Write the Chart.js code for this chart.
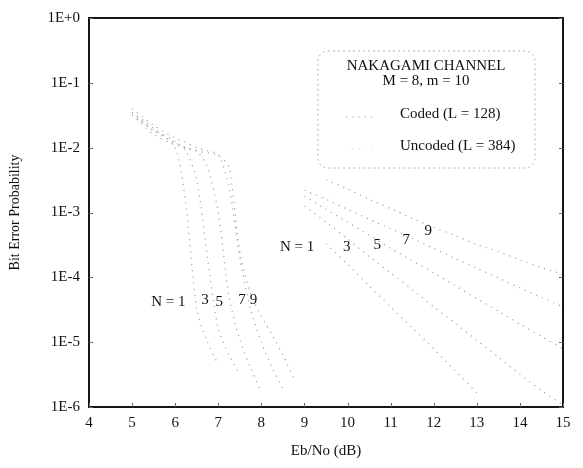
<!DOCTYPE html>
<html>
<head>
<meta charset="utf-8">
<script src="https://cdn.jsdelivr.net/npm/chart.js@4/dist/chart.umd.min.js"></script>
<style>
  html, body { margin: 0; padding: 0; background: #ffffff; }
  #wrap { width: 583px; height: 468px; }
</style>
</head>
<body>
<div id="wrap"><canvas id="c" width="583" height="468"></canvas></div>
<script>
// ---------------- data ----------------
const xTickValues = [4, 5, 6, 7, 8, 9, 10, 11, 12, 13, 14, 15];
const xTickLabels = ['4', '5', '6', '7', '8', '9', '10', '11', '12', '13', '14', '15'];
const yTickValues = [1e-6, 1e-5, 1e-4, 1e-3, 1e-2, 1e-1, 1];
const yTickLabels = ['1E-6', '1E-5', '1E-4', '1E-3', '1E-2', '1E-1', '1E+0'];

// Coded (L = 128) curves, Eb/No grid
const codedEbNo = [5, 5.5, 6, 6.25, 6.5, 6.75, 7, 7.25, 7.5, 7.75, 8, 8.25, 8.5, 8.75];
const codedN1 = [3.5e-2, 2.0e-2, 1.0e-2, 1.3e-3, 3.2e-5, 1.0e-5, 4.5e-6, null, null, null, null, null, null, null];
const codedN3 = [3.2e-2, 1.9e-2, 1.25e-2, 8.9e-3, 3.2e-3, 2.0e-4, 1.6e-5, 6.3e-6, 3.2e-6, null, null, null, null, null];
const codedN5 = [3.5e-2, 1.8e-2, 1.2e-2, 1.0e-2, 8.9e-3, 5.0e-3, 1.0e-3, 5.0e-5, 1.1e-5, 4.0e-6, 1.7e-6, null, null, null];
const codedN7 = [4.0e-2, 2.2e-2, 1.4e-2, 1.2e-2, 1.0e-2, 8.9e-3, 7.9e-3, 2.5e-3, 2.0e-4, 3.2e-5, 1.0e-5, 4.0e-6, 1.9e-6, null];
const codedN9 = [3.2e-2, 1.6e-2, 1.1e-2, 1.0e-2, 8.9e-3, 8.3e-3, 7.6e-3, 5.0e-3, 2.5e-4, 5.6e-5, 2.5e-5, 1.3e-5, 6.3e-6, 2.8e-6];

// Uncoded (L = 384) curves, Eb/No grid
const uncodedEbNo = [9, 9.5, 10, 10.5, 11, 11.5, 12, 12.5, 13, 13.5, 14, 14.5, 15];
const uncodedN1 = [null, 3.3e-4, 1.6e-4, 7.4e-5, 3.5e-5, 1.66e-5, 7.9e-6, 3.6e-6, 1.66e-6, null, null, null, null];
const uncodedN3 = [1.26e-3, 7.1e-4, 3.9e-4, 2.1e-4, 1.17e-4, 6.5e-5, 3.5e-5, 1.95e-5, 1.07e-5, 5.9e-6, 3.2e-6, 1.8e-6, 1.07e-6];
const uncodedN5 = [1.8e-3, 1.12e-3, 7.1e-4, 4.5e-4, 2.8e-4, 1.8e-4, 1.17e-4, 7.4e-5, 4.7e-5, 3.0e-5, 1.9e-5, 1.23e-5, 7.9e-6];
const uncodedN7 = [2.2e-3, 1.6e-3, 1.12e-3, 7.9e-4, 5.6e-4, 4.0e-4, 2.8e-4, 1.95e-4, 1.38e-4, 9.8e-5, 6.9e-5, 4.9e-5, 3.5e-5];
const uncodedN9 = [null, 3.2e-3, 2.3e-3, 1.6e-3, 1.15e-3, 8.1e-4, 5.9e-4, 4.4e-4, 3.2e-4, 2.5e-4, 1.86e-4, 1.41e-4, 1.12e-4];

// Curve labels (data coordinates)
const curveLabelText = ['N = 1', '3', '5', '7', '9'];
const codedLabelX = [5.84, 6.69, 7.02, 7.55, 7.82];
const codedLabelY = [4.2e-5, 4.5e-5, 4.1e-5, 4.4e-5, 4.4e-5];
const uncodedLabelX = [8.83, 9.98, 10.69, 11.36, 11.87];
const uncodedLabelY = [2.9e-4, 2.95e-4, 3.1e-4, 3.7e-4, 5.2e-4];

const legendTitle = ['NAKAGAMI CHANNEL', 'M = 8, m = 10'];
const seriesNames = ['Coded (L = 128)', 'Uncoded (L = 384)'];

// ---------------- chart ----------------
const FONT = '"Liberation Serif", "Times New Roman", serif';
const LINE_COLOR = '#a4a4a4';

function series(xs, ys, label) {
  return {
    label: label,
    data: xs.map((x, i) => ({ x: x, y: ys[i] })),
    borderColor: LINE_COLOR,
    borderWidth: 1.2,
    borderDash: [1.2, 5],
    pointRadius: 0,
    tension: 0.25,
    spanGaps: false,
    fill: false
  };
}

const datasets = [
  series(codedEbNo, codedN1, 'Coded N=1'),
  series(codedEbNo, codedN3, 'Coded N=3'),
  series(codedEbNo, codedN5, 'Coded N=5'),
  series(codedEbNo, codedN7, 'Coded N=7'),
  series(codedEbNo, codedN9, 'Coded N=9'),
  series(uncodedEbNo, uncodedN1, 'Uncoded N=1'),
  series(uncodedEbNo, uncodedN3, 'Uncoded N=3'),
  series(uncodedEbNo, uncodedN5, 'Uncoded N=5'),
  series(uncodedEbNo, uncodedN7, 'Uncoded N=7'),
  series(uncodedEbNo, uncodedN9, 'Uncoded N=9')
];

const overlay = {
  id: 'overlay',
  afterDatasetsDraw(chart) {
    const ctx = chart.ctx;
    const a = chart.chartArea;
    const xs = chart.scales.x, ys = chart.scales.y;
    ctx.save();

    // frame
    ctx.strokeStyle = '#151515';
    ctx.lineWidth = 2;
    ctx.setLineDash([]);
    ctx.strokeRect(a.left, a.top, a.right - a.left, a.bottom - a.top);

    // small inward ticks
    ctx.lineWidth = 1;
    ctx.strokeStyle = '#666';
    xTickValues.forEach(v => {
      const px = Math.round(xs.getPixelForValue(v)) + 0.5;
      ctx.beginPath(); ctx.moveTo(px, a.bottom); ctx.lineTo(px, a.bottom - 4); ctx.stroke();
    });
    yTickValues.forEach(v => {
      const py = Math.round(ys.getPixelForValue(v)) + 0.5;
      ctx.beginPath(); ctx.moveTo(a.left, py); ctx.lineTo(a.left + 4, py); ctx.stroke();
      ctx.beginPath(); ctx.moveTo(a.right, py); ctx.lineTo(a.right - 4, py); ctx.stroke();
    });

    // curve labels
    ctx.fillStyle = '#111';
    ctx.font = '15px ' + FONT;
    ctx.textAlign = 'center';
    ctx.textBaseline = 'middle';
    curveLabelText.forEach((t, i) => {
      ctx.fillText(t, xs.getPixelForValue(codedLabelX[i]), ys.getPixelForValue(codedLabelY[i]));
      ctx.fillText(t, xs.getPixelForValue(uncodedLabelX[i]), ys.getPixelForValue(uncodedLabelY[i]));
    });

    // legend box
    const bx = a.left + 229, by = a.top + 33, bw = 217, bh = 117;
    ctx.strokeStyle = '#b4b4b4';
    ctx.lineWidth = 1;
    ctx.setLineDash([2, 3]);
    ctx.beginPath();
    ctx.roundRect(bx, by, bw, bh, 10);
    ctx.stroke();

    ctx.setLineDash([]);
    ctx.fillStyle = '#111';
    ctx.textAlign = 'center';
    ctx.fillText(legendTitle[0], bx + 108, by + 15);
    ctx.fillText(legendTitle[1], bx + 108, by + 30);
    ctx.textAlign = 'left';
    ctx.fillText(seriesNames[0], bx + 82, by + 63);
    ctx.fillText(seriesNames[1], bx + 82, by + 95);

    // legend samples
    ctx.strokeStyle = LINE_COLOR;
    ctx.lineWidth = 1.2;
    ctx.setLineDash([1.2, 5]);
    ctx.beginPath(); ctx.moveTo(bx + 28, by + 66); ctx.lineTo(bx + 56, by + 66); ctx.stroke();
    ctx.strokeStyle = '#d6d6d6';
    ctx.beginPath(); ctx.moveTo(bx + 28, by + 98); ctx.lineTo(bx + 56, by + 98); ctx.stroke();

    ctx.restore();
  }
};

new Chart(document.getElementById('c'), {
  type: 'line',
  data: { datasets: datasets },
  options: {
    responsive: false,
    animation: false,
    devicePixelRatio: 1,
    layout: { padding: { left: 0, right: 20, top: 17, bottom: 0 } },
    plugins: {
      legend: { display: false },
      tooltip: { enabled: false }
    },
    scales: {
      x: {
        type: 'linear',
        min: 4, max: 15,
        afterFit: s => { s.height = 61; },
        afterBuildTicks: s => { s.ticks = xTickValues.map(v => ({ value: v })); },
        grid: { display: false, drawTicks: false, tickLength: 0 },
        border: { display: false },
        ticks: {
          color: '#111',
          font: { family: FONT, size: 15 },
          padding: 7,
          maxRotation: 0,
          autoSkip: false,
          callback: (v, i) => xTickLabels[i]
        },
        title: {
          display: true,
          text: 'Eb/No (dB)',
          color: '#111',
          font: { family: FONT, size: 15 },
          padding: { top: 0, bottom: 8 }
        }
      },
      y: {
        type: 'logarithmic',
        min: 1e-6, max: 1,
        afterFit: s => { s.width = 89; },
        afterBuildTicks: s => { s.ticks = yTickValues.map(v => ({ value: v })); },
        grid: { display: false, drawTicks: false, tickLength: 0 },
        border: { display: false },
        ticks: {
          color: '#111',
          font: { family: FONT, size: 15 },
          padding: 9,
          autoSkip: false,
          callback: (v, i) => yTickLabels[i]
        },
        title: {
          display: true,
          text: 'Bit Error Probability',
          color: '#111',
          font: { family: FONT, size: 14 },
          padding: { top: 7, bottom: 0 }
        }
      }
    }
  },
  plugins: [overlay]
});
</script>
</body>
</html>
